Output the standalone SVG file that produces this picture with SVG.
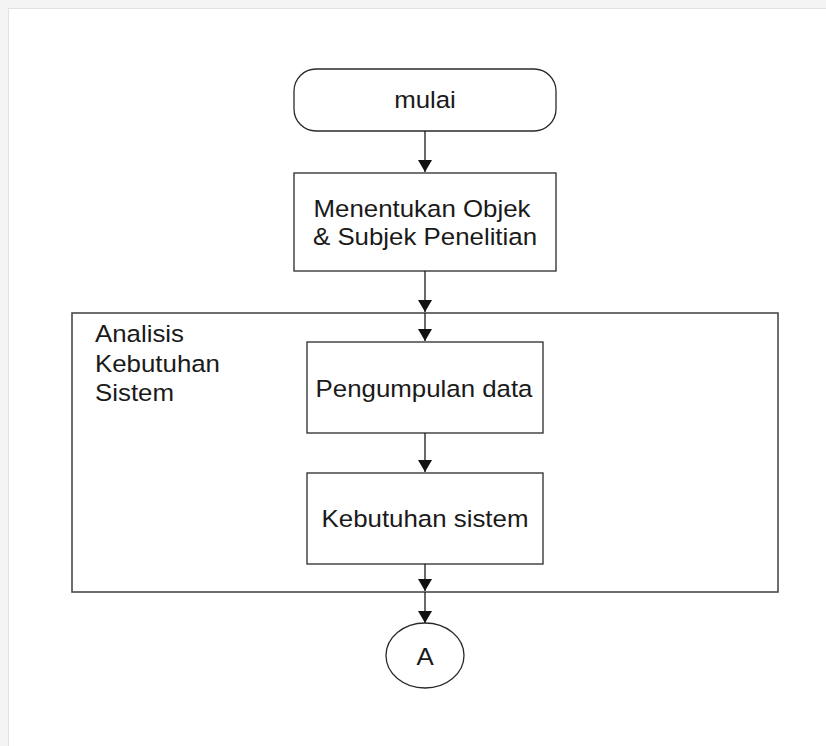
<svg xmlns="http://www.w3.org/2000/svg" width="826" height="746" viewBox="0 0 826 746">
  <style>
    .shape { fill: #ffffff; stroke: #2a2a2a; stroke-width: 1.3; }
    .group { fill: none; stroke: #4a4a4a; stroke-width: 1.6; }
    .edge { fill: none; stroke: #1a1a1a; stroke-width: 1.3; marker-end: url(#arrow); }
    .label { font-family: "Liberation Sans", Arial, sans-serif; font-size: 23.5px; fill: #1a1a1a; }
    .mid { text-anchor: middle; }
  </style>
  <defs>
    <marker id="arrow" viewBox="0 0 12 14" refX="12" refY="7" markerWidth="12" markerHeight="14" markerUnits="userSpaceOnUse" orient="auto">
      <path d="M0,0 L12,7 L0,14 Z" fill="#111111"/>
    </marker>
  </defs>

  <!-- page -->
  <rect x="0" y="0" width="826" height="746" fill="#f4f4f4"/>
  <rect x="8" y="8" width="818" height="738" fill="#e2e2e2"/>
  <rect x="9" y="9" width="817" height="737" fill="#ffffff"/>

  <!-- swimlane container -->
  <g id="analisis-kebutuhan-sistem">
    <rect class="group" x="72" y="313" width="706" height="279"/>
    <text class="label" transform="translate(95,342) scale(1.1,1)">Analisis</text>
    <text class="label" transform="translate(95,372) scale(1.1,1)">Kebutuhan</text>
    <text class="label" transform="translate(95,401) scale(1.1,1)">Sistem</text>
  </g>

  <g id="mulai">
    <rect class="shape" x="294" y="69" width="262" height="62" rx="22" ry="22"/>
    <text class="label mid" transform="translate(425,108) scale(1.1,1)">mulai</text>
  </g>

  <g id="menentukan-objek">
    <rect class="shape" x="294" y="173" width="262" height="98"/>
    <text class="label mid" transform="translate(422,217) scale(1.1,1)">Menentukan Objek</text>
    <text class="label mid" transform="translate(425,245) scale(1.1,1)">&amp; Subjek Penelitian</text>
  </g>

  <g id="pengumpulan-data">
    <rect class="shape" x="307" y="342" width="236" height="91"/>
    <text class="label mid" transform="translate(424,397) scale(1.1,1)">Pengumpulan data</text>
  </g>

  <g id="kebutuhan-sistem">
    <rect class="shape" x="307" y="473" width="236" height="91"/>
    <text class="label mid" transform="translate(425,527) scale(1.1,1)">Kebutuhan sistem</text>
  </g>

  <g id="konektor-a">
    <ellipse class="shape" cx="425" cy="655.5" rx="39" ry="32.5"/>
    <text class="label mid" transform="translate(425,665) scale(1.1,1)">A</text>
  </g>

  <!-- connectors -->
  <g id="connectors">
    <line class="edge" x1="425" y1="131" x2="425" y2="172"/>
    <line class="edge" x1="425" y1="271" x2="425" y2="312"/>
    <line class="edge" x1="425" y1="313" x2="425" y2="341"/>
    <line class="edge" x1="425" y1="433" x2="425" y2="472"/>
    <line class="edge" x1="425" y1="564" x2="425" y2="591"/>
    <line class="edge" x1="425" y1="592" x2="425" y2="623"/>
  </g>
</svg>
